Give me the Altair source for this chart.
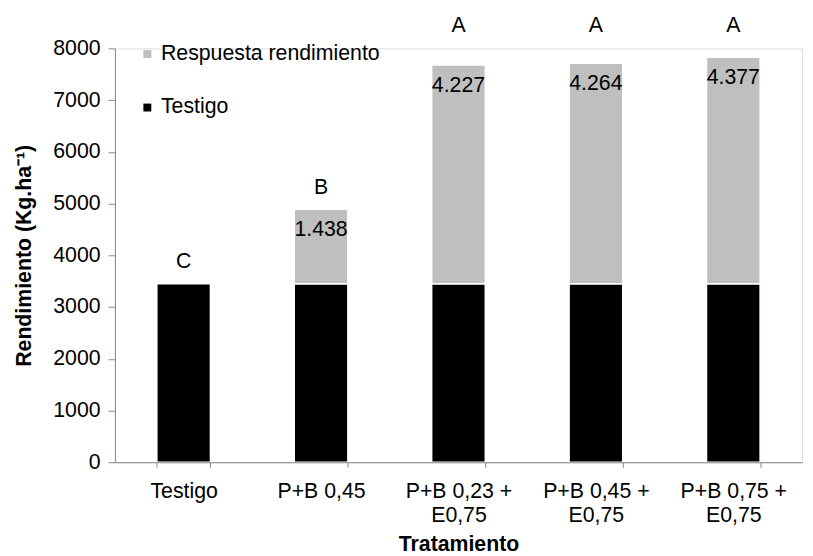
import altair as alt
import pandas as pd

tratamientos = ["Testigo", "P+B 0,45", "P+B 0,23 +\nE0,75", "P+B 0,45 +\nE0,75", "P+B 0,75 +\nE0,75"]
testigo = [3450, 3450, 3450, 3450, 3450]
respuesta = [0, 1438, 4227, 4264, 4377]
letras = ["C", "B", "A", "A", "A"]

series_names = ["Respuesta rendimiento", "Testigo"]
series_colors = ["#bfbfbf", "#000000"]

rows = []
for t, b, r in zip(tratamientos, testigo, respuesta):
    rows.append({"trat": t, "serie": "Testigo", "valor": b, "orden": 0})
    if r > 0:
        rows.append({"trat": t, "serie": "Respuesta rendimiento", "valor": r, "orden": 1})
df = pd.DataFrame(rows)

tot = pd.DataFrame({
    "trat": tratamientos,
    "base": testigo,
    "resp": respuesta,
    "letra": letras,
})
tot["total"] = tot["base"] + tot["resp"]

FONT = "Liberation Sans"
FS = 21.5

xenc = alt.X(
    "trat:N",
    sort=tratamientos,
    title="Tratamiento",
    scale=alt.Scale(paddingInner=0.61, paddingOuter=0.305),
    axis=alt.Axis(
        labelAngle=0,
        labelExpr="isValid(datum.value) ? split(datum.value, '\\n') : ''",
        labelLineHeight=24,
        labelFontSize=FS,
        labelColor="#000000",
        labelFont=FONT,
        labelPadding=14,
        tickBand="extent",
        tickSize=5,
        tickColor="#888888",
        domainColor="#888888",
        titleFont=FONT,
        titleFontSize=FS,
        titleFontWeight="bold",
        titleColor="#000000",
        titlePadding=8,
        zindex=1,
    ),
)

bars = alt.Chart(df).mark_bar(stroke="white", strokeWidth=1.5).encode(
    x=xenc,
    y=alt.Y(
        "valor:Q",
        stack="zero",
        title="Rendimiento (Kg.ha⁻¹)",
        scale=alt.Scale(domain=[0, 8000]),
        axis=alt.Axis(
            values=[0, 1000, 2000, 3000, 4000, 5000, 6000, 7000, 8000],
            format="d",
            grid=False,
            labelFontSize=FS,
            labelFont=FONT,
            labelColor="#000000",
            labelPadding=8,
            tickSize=7,
            tickColor="#888888",
            domainColor="#888888",
            titleFont=FONT,
            titleFontSize=FS,
            titleFontWeight="bold",
            titleColor="#000000",
            titlePadding=17,
            zindex=1,
        ),
    ),
    color=alt.Color(
        "serie:N",
        scale=alt.Scale(domain=series_names, range=series_colors),
        legend=alt.Legend(
            title=None,
            orient="none",
            legendX=22,
            legendY=-5,
            symbolType="square",
            symbolSize=64,
            symbolStrokeWidth=0,
            labelFont=FONT,
            labelFontSize=FS,
            labelColor="#000000",
            labelOffset=3,
            labelLimit=0,
            rowPadding=31,
        ),
    ),
    order=alt.Order("orden:Q", sort="ascending"),
)

resp_labels = alt.Chart(tot).transform_filter("datum.resp > 0").transform_calculate(
    lab="replace(format(datum.resp, ','), ',', '.')"
).mark_text(font=FONT, fontSize=FS, color="#000000", baseline="middle", dy=21).encode(
    x=alt.X("trat:N", sort=tratamientos),
    y="total:Q",
    text="lab:N",
)

letter_labels = alt.Chart(tot).transform_calculate(
    ly="datum.total > 7000 ? 8440 : datum.total + 420"
).mark_text(font=FONT, fontSize=FS, color="#000000", baseline="middle").encode(
    x=alt.X("trat:N", sort=tratamientos),
    y="ly:Q",
    text="letra:N",
)

chart = alt.layer(bars, resp_labels, letter_labels).properties(
    width=694,
    height=418,
    autosize=alt.AutoSizeParams(type="none"),
    padding={"left": 108, "top": 38, "right": 3, "bottom": 100},
).configure_view(stroke=None).configure(background="white")

chart.save("out.html", embed_options={"renderer": "svg", "actions": False})
